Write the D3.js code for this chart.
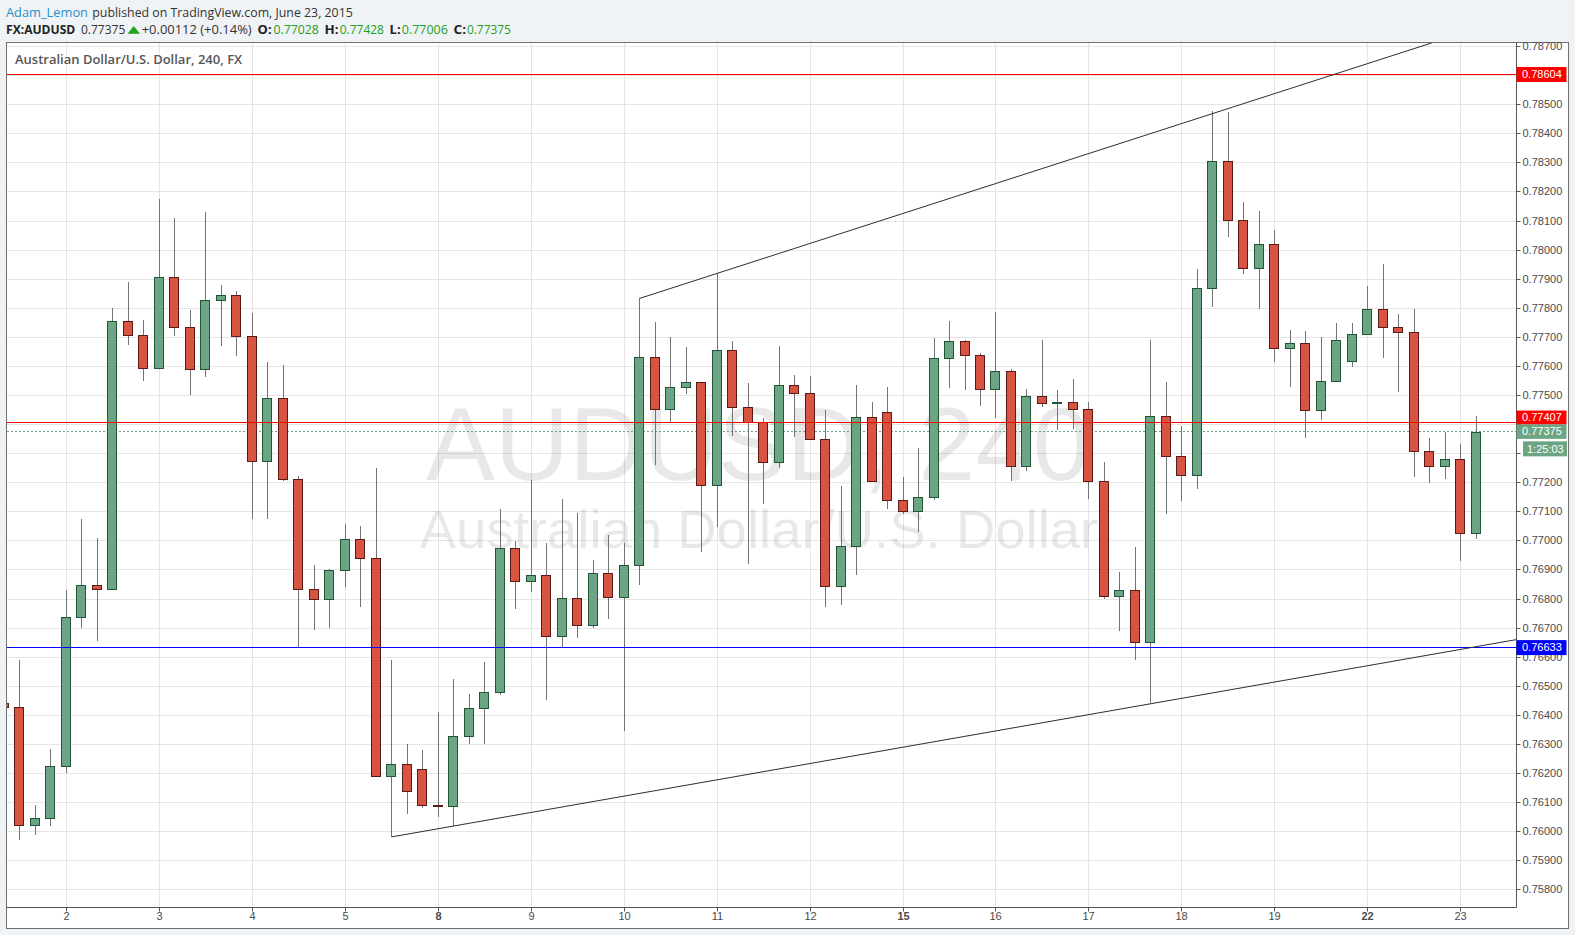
<!DOCTYPE html>
<html><head><meta charset="utf-8">
<script src="https://cdnjs.cloudflare.com/ajax/libs/d3/7.8.5/d3.min.js"></script>
<style>html,body{margin:0;padding:0;background:#f0f3f6;} svg{display:block}</style>
</head><body><svg id="c" width="1575" height="935"></svg>
<script>
// ---- data (4h candles, AUD/USD, Jun 1 - Jun 23 2015) ----
const opens  = [0.76441,0.76428,0.76022,0.76046,0.76225,0.76737,0.76847,0.76834,0.77755,0.77707,
                0.77596,0.77909,0.77734,0.77590,0.77830,0.77845,0.77703,0.77274,0.77490,0.77214,
                0.76834,0.76799,0.76899,0.77008,0.76940,0.76191,0.76232,0.76217,0.76091,0.76088,
                0.76328,0.76424,0.76479,0.76975,0.76863,0.76882,0.76674,0.76803,0.76712,0.76888,
                0.76808,0.76916,0.77632,0.77453,0.77528,0.77545,0.77193,0.77655,0.77459,0.77408,
                0.77270,0.77536,0.77507,0.77350,0.76846,0.76982,0.77425,0.77445,0.77140,0.77104,
                0.77150,0.77628,0.77687,0.77638,0.77524,0.77583,0.77257,0.77497,0.77474,0.77476,
                0.77455,0.77207,0.76812,0.76830,0.76651,0.77428,0.77291,0.77225,0.77871,0.78308,
                0.78104,0.77940,0.78020,0.77664,0.77679,0.77451,0.77551,0.77620,0.77713,0.77799,
                0.77737,0.77717,0.77308,0.77259,0.77283,0.77028];
const highs  = [0.76445,0.76591,0.76092,0.76284,0.76832,0.77075,0.77009,0.77801,0.77891,0.77759,
                0.78176,0.78110,0.77793,0.78131,0.77880,0.77859,0.77783,0.77615,0.77605,0.77222,
                0.76917,0.76903,0.77058,0.77051,0.77249,0.76591,0.76301,0.76280,0.76413,0.76525,
                0.76474,0.76583,0.77109,0.76999,0.77209,0.76992,0.77143,0.77097,0.76934,0.77021,
                0.76992,0.77834,0.77753,0.77701,0.77667,0.77545,0.77921,0.77686,0.77543,0.77422,
                0.77670,0.77571,0.77567,0.77450,0.77188,0.77536,0.77478,0.77529,0.77220,0.77320,
                0.77697,0.77757,0.77690,0.77645,0.77787,0.77592,0.77521,0.77691,0.77518,0.77557,
                0.77476,0.77271,0.76893,0.76979,0.77690,0.77546,0.77395,0.77934,0.78478,0.78475,
                0.78164,0.78134,0.78068,0.77725,0.77721,0.77701,0.77749,0.77749,0.77876,0.77951,
                0.77780,0.77797,0.77354,0.77376,0.77332,0.77428];
const lows   = [0.76425,0.75972,0.75987,0.76021,0.76203,0.76699,0.76657,0.76834,0.77675,0.77551,
                0.77591,0.77705,0.77503,0.77564,0.77671,0.77637,0.77076,0.77076,0.77207,0.76633,
                0.76695,0.76700,0.76842,0.76771,0.76191,0.75982,0.76061,0.76080,0.76049,0.76021,
                0.76301,0.76301,0.76470,0.76767,0.76825,0.76453,0.76633,0.76666,0.76699,0.76732,
                0.76347,0.76850,0.77262,0.77409,0.77505,0.76963,0.77049,0.77361,0.76922,0.77128,
                0.77251,0.77358,0.77350,0.76771,0.76780,0.76884,0.77205,0.77111,0.77091,0.77029,
                0.77140,0.77526,0.77520,0.77465,0.77424,0.77207,0.77242,0.77462,0.77383,0.77386,
                0.77143,0.76801,0.76691,0.76592,0.76443,0.77093,0.77138,0.77179,0.77805,0.78046,
                0.77918,0.77799,0.77616,0.77530,0.77355,0.77417,0.77551,0.77599,0.77708,0.77630,
                0.77513,0.77221,0.77200,0.77213,0.76932,0.77006];
const closes = [0.76428,0.76022,0.76046,0.76225,0.76737,0.76847,0.76834,0.77755,0.77707,0.77596,
                0.77909,0.77734,0.77590,0.77830,0.77845,0.77703,0.77274,0.77490,0.77214,0.76834,
                0.76799,0.76899,0.77008,0.76940,0.76191,0.76232,0.76140,0.76091,0.76088,0.76328,
                0.76424,0.76479,0.76975,0.76863,0.76882,0.76674,0.76803,0.76712,0.76888,0.76808,
                0.76916,0.77632,0.77453,0.77528,0.77545,0.77193,0.77655,0.77459,0.77408,0.77270,
                0.77536,0.77507,0.77350,0.76846,0.76982,0.77425,0.77205,0.77140,0.77104,0.77150,
                0.77628,0.77687,0.77638,0.77524,0.77583,0.77257,0.77497,0.77474,0.77476,0.77455,
                0.77207,0.76812,0.76830,0.76651,0.77428,0.77291,0.77225,0.77871,0.78308,0.78104,
                0.77940,0.78020,0.77664,0.77679,0.77451,0.77551,0.77692,0.77713,0.77799,0.77737,
                0.77717,0.77308,0.77259,0.77283,0.77026,0.77375];

const dayIdx    = [4,10,16,22,28,34,40,46,52,58,64,70,76,82,88,94];
const dayLabels = ["2","3","4","5","8","9","10","11","12","15","16","17","18","19","22","23"];
const weekStartLabels = ["8","15","22"];
const priceTicks = [0.758,0.759,0.760,0.761,0.762,0.763,0.764,0.765,0.766,0.767,0.768,0.769,
                    0.770,0.771,0.772,0.773,0.774,0.775,0.776,0.777,0.778,0.779,0.780,0.781,
                    0.782,0.783,0.784,0.785,0.786,0.787];
const hiddenTickLabels = [0.773,0.774];   // covered by the price flags
const levelValues = [0.78604, 0.77407, 0.76633];
const lastPrice = 0.77375;
const countdown = "1:25:03";
const trendUpper = [[41,0.77834],[78,0.78470]];
const trendLower = [[25,0.75982],[74,0.76440]];

// ---- layout ----
const PL=7, PR=1516, PT=43, PB=907;
const svg = d3.select("#c");
const AX = '"Liberation Sans", Arial, sans-serif';
const OS = '"Open Sans", "Liberation Sans", Arial, sans-serif';
const px = v => Math.floor(v) + 0.5;

const x = d3.scaleLinear().domain([4,94]).range([66.3,1460.85]);
const y = d3.scaleLinear().domain([0.758,0.787]).range([889.8,46.6]);

svg.append("rect").attr("width",1575).attr("height",935).attr("fill","#f0f3f6");
svg.append("rect").attr("x",6.5).attr("y",42.5).attr("width",1562).attr("height",886)
   .attr("fill","#fff").attr("stroke","#707070");

svg.append("defs").append("clipPath").attr("id","clip").append("rect")
   .attr("x",PL).attr("y",PT).attr("width",PR-PL).attr("height",PB-PT);

const plot = svg.append("g").attr("clip-path","url(#clip)");

// grid
plot.selectAll("line.hg").data(priceTicks).join("line").attr("class","hg")
  .attr("x1",PL).attr("x2",PR).attr("y1",d=>px(y(d))).attr("y2",d=>px(y(d)))
  .attr("stroke","#e5e5e5");
plot.selectAll("line.vg").data(dayIdx).join("line").attr("class","vg")
  .attr("y1",PT).attr("y2",PB).attr("x1",d=>px(x(d))).attr("x2",d=>px(x(d)))
  .attr("stroke","#e5e5e5");

// watermark
plot.append("text").attr("x",758).attr("y",480).attr("text-anchor","middle")
  .style("font-family",AX).style("font-size","103px").attr("fill","rgba(0,0,0,0.09)")
  .text("AUDUSD, 240");
plot.append("text").attr("x",759).attr("y",548).attr("text-anchor","middle")
  .style("font-family",AX).style("font-size","54.5px").attr("fill","rgba(0,0,0,0.09)")
  .text("Australian Dollar/U.S. Dollar");

// last price dashed line
plot.append("line").attr("x1",PL).attr("x2",PR)
  .attr("y1",px(y(lastPrice))).attr("y2",px(y(lastPrice)))
  .attr("stroke","#6ba583").attr("stroke-dasharray","2,2");

// candles
const candles = d3.range(opens.length).map(i=>({i,o:opens[i],h:highs[i],l:lows[i],c:closes[i]}));
const cg = plot.append("g");
cg.selectAll("line.wick").data(candles).join("line").attr("class","wick")
  .attr("x1",d=>px(x(d.i))).attr("x2",d=>px(x(d.i)))
  .attr("y1",d=>Math.round(y(d.h))).attr("y2",d=>Math.round(y(d.l)))
  .attr("stroke","#737373");
cg.selectAll("rect.body").data(candles).join("rect").attr("class","body")
  .attr("x",d=>Math.floor(x(d.i))-4.5).attr("width",9)
  .attr("y",d=>Math.round(y(Math.max(d.o,d.c)))+0.5)
  .attr("height",d=>Math.max(1,Math.round(y(Math.min(d.o,d.c)))-Math.round(y(Math.max(d.o,d.c)))))
  .attr("fill",d=>d.c>=d.o?"#6ba583":"#d75442")
  .attr("stroke",d=>d.c>=d.o?"#225437":"#5b1a13");

// horizontal levels
const levelColors = ["#ff0000","#ff0000","#0000ff"];
plot.selectAll("line.lvl").data(levelValues).join("line").attr("class","lvl")
  .attr("x1",PL).attr("x2",PR).attr("y1",d=>px(y(d))).attr("y2",d=>px(y(d)))
  .attr("stroke",(d,k)=>levelColors[k]);

// trend lines (extended right)
function ext(t){
  const [a,b]=t; const s=(b[1]-a[1])/(b[0]-a[0]);
  return [a,[110,a[1]+s*(110-a[0])]];
}
[trendUpper,trendLower].forEach(t=>{
  const e=ext(t);
  plot.append("line").attr("x1",x(e[0][0])).attr("y1",y(e[0][1]))
    .attr("x2",x(e[1][0])).attr("y2",y(e[1][1]))
    .attr("stroke","#2e2e2e").attr("stroke-width",1);
});

// axes lines
svg.append("line").attr("x1",PL).attr("x2",PR+0.5).attr("y1",PB+0.5).attr("y2",PB+0.5).attr("stroke","#555");
svg.append("line").attr("x1",PR+0.5).attr("x2",PR+0.5).attr("y1",PT).attr("y2",PB+0.5).attr("stroke","#555");

// right axis
const ya = svg.append("g").attr("transform",`translate(${PR+0.5},0)`)
  .call(d3.axisRight(y).tickValues(priceTicks).tickSize(4).tickPadding(2).offset(0)
        .tickFormat(d=>hiddenTickLabels.some(h=>Math.abs(h-d)<1e-9)?"":d3.format(".5f")(d)));
ya.select(".domain").remove();
ya.selectAll(".tick").attr("transform",d=>`translate(0,${px(y(d))})`);
ya.selectAll(".tick line").attr("stroke","#555");
ya.selectAll(".tick text").attr("fill","#4a4a4a").style("font-family",AX).style("font-size","11px");

// bottom axis
const xa = svg.append("g").attr("transform",`translate(0,${PB+0.5})`)
  .call(d3.axisBottom(x).tickValues(dayIdx).tickSize(4).tickPadding(0.5).offset(0)
        .tickFormat(d=>dayLabels[dayIdx.indexOf(d)]));
xa.select(".domain").remove();
xa.selectAll(".tick").attr("transform",d=>`translate(${px(x(d))},0)`);
xa.selectAll(".tick line").attr("stroke","#555");
xa.selectAll(".tick text").attr("fill","#4a4a4a").style("font-family",AX).style("font-size","11px")
  .style("font-weight",d=>weekStartLabels.includes(dayLabels[dayIdx.indexOf(d)])?"bold":"normal");

// price flags
function flag(yTop,h,x0,w,fill,txt,tx){
  svg.append("rect").attr("x",x0).attr("y",yTop).attr("width",w).attr("height",h).attr("fill",fill);
  svg.append("text").attr("x",tx).attr("y",yTop+h/2).attr("dy","0.35em").attr("fill","#fff")
    .style("font-family",AX).style("font-size","11px").text(txt);
}
const f5 = d3.format(".5f");
flag(y(levelValues[0])-7.5,15,PR+0.5,50,"#ff0000",f5(levelValues[0]),1522);
flag(y(levelValues[1])-12,14,PR+0.5,50,"#ff0000",f5(levelValues[1]),1522);
flag(y(lastPrice)-7.5,14.5,PR+0.5,50,"#6ba583",f5(lastPrice),1522);
flag(y(lastPrice)+9.5,15,1523,44,"#6ba583",countdown,1527);
flag(y(levelValues[2])-7.5,15,PR+0.5,50,"#0000ff",f5(levelValues[2]),1522);

// header
const hdr = svg.append("g").style("font-family",OS);
const ht = (xx,yy,txt,fill,bold,len)=>{
  const t = hdr.append("text").attr("x",xx).attr("y",yy).style("font-size","13px")
    .style("font-weight",bold?"bold":"normal").attr("fill",fill).text(txt);
  if(len) t.attr("textLength",len).attr("lengthAdjust","spacingAndGlyphs");
  return t;
};
ht(6,16.7,"Adam_Lemon","#2a8fcb",false,82);
ht(92.3,16.7,"published on TradingView.com, June 23, 2015","#333",false,260.5);
const L2=33.7, G="#22a022";
ht(6,L2,"FX:AUDUSD","#222",true,69.3);
ht(81,L2,"0.77375","#333",false,44.3);
hdr.append("path").attr("d",`M127.5,${L2} L140,${L2} L133.75,26 Z`).attr("fill","#1ea51e");
ht(141.7,L2,"+0.00112 (+0.14%)","#333",false,110);
ht(257.6,L2,"O:","#222",true,14); ht(273.6,L2,"0.77028",G,false,45.2);
ht(324.5,L2,"H:","#222",true,14); ht(339.8,L2,"0.77428",G,false,44.1);
ht(389.6,L2,"L:","#222",true,11); ht(401.8,L2,"0.77006",G,false,46);
ht(453.5,L2,"C:","#222",true,12.5); ht(466.9,L2,"0.77375",G,false,44);

// legend
svg.append("text").attr("x",15).attr("y",64.3).style("font-family",OS).style("font-size","13px")
  .style("font-weight","600").attr("fill","#555").text("Australian Dollar/U.S. Dollar, 240, FX");
</script></body></html>
